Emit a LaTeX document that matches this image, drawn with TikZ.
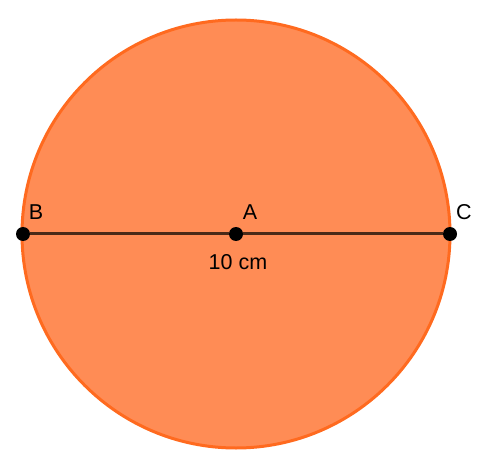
\documentclass[tikz,border=0pt]{standalone}
\usepackage{fontspec}
\setmainfont{Liberation Sans}
\usepackage{xcolor}
\usetikzlibrary{positioning}
\definecolor{diskfill}{HTML}{FF8C55}
\definecolor{diskedge}{HTML}{FF6A1F}
\definecolor{chord}{HTML}{4A2A18}
\tikzstyle{dot}   = [circle, fill=black, inner sep=0pt, minimum size=14pt]
\tikzstyle{lbl}   = [font=\fontsize{21.5}{25}\selectfont, inner sep=0pt]
\tikzset{every node/.style={align=center}}

\begin{document}
\begin{tikzpicture}[x=1pt, y=-1pt]
    \useasboundingbox (0,0) rectangle (492,462);
    \draw [diskedge, fill=diskfill, line width=3pt] (236,234) circle (214);

    \node (B) at (23,234)  [dot] {};
    \node (A) at (236,234) [dot] {};
    \node (C) at (450,234) [dot] {};

    \draw [chord, line width=3pt] (B) -- (A);
    \draw [chord, line width=3pt] (A) -- (C);

    \node (labB) at (36,212.5)  [lbl] {B};
    \node (labA) at (250,212.5) [lbl] {A};
    \node (labC) at (464,212.5) [lbl] {C};
    \node (len)  at (238,262.5) [lbl] {10 cm};
\end{tikzpicture}
\end{document}
